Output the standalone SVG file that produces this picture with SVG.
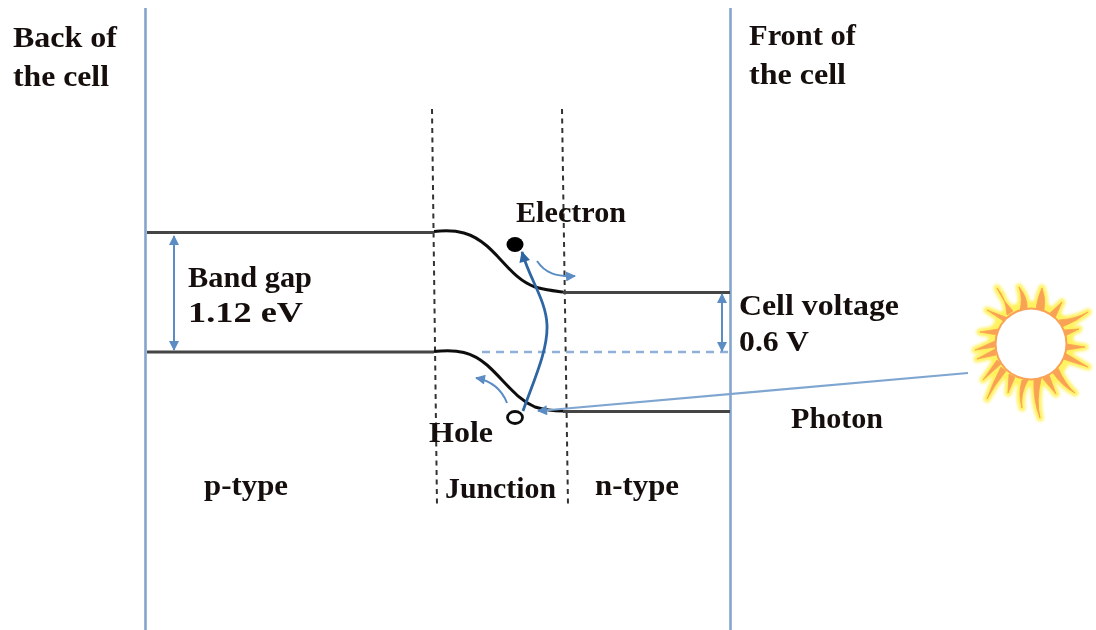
<svg xmlns="http://www.w3.org/2000/svg" width="1096" height="630" viewBox="0 0 1096 630">
<style>
text{font-family:"Liberation Serif","Times New Roman",serif;font-weight:bold;font-size:29px;fill:#14100c}
.wall{stroke:#86a5ce;stroke-width:2.6;fill:none}
.band{stroke:#444;stroke-width:2.8;fill:none}
.curve{stroke:#111;stroke-width:3;fill:none}
.dash{stroke:#333;stroke-width:2;stroke-dasharray:5 4.500;fill:none}
.blue{stroke:#2f66a3;stroke-width:2.8;fill:none}
.thin{stroke:#5b8cc4;stroke-width:2;fill:none}
</style>
<defs>
<marker id="a" viewBox="0 0 10 10" refX="9" refY="5" markerWidth="12" markerHeight="10" markerUnits="userSpaceOnUse" orient="auto-start-reverse"><path d="M0 0L10 5L0 10Z" fill="#5b8cc4"/></marker>
<marker id="b" viewBox="0 0 10 10" refX="9" refY="5" markerWidth="13" markerHeight="11" markerUnits="userSpaceOnUse" orient="auto"><path d="M0 0L10 5L0 10Z" fill="#2f66a3"/></marker>
<filter id="soft0" x="-5%" y="-5%" width="110%" height="110%"><feGaussianBlur stdDeviation="0.45"/></filter>
<filter id="blur" x="-20%" y="-20%" width="140%" height="140%"><feGaussianBlur stdDeviation="1.5"/></filter>
<filter id="soft" x="-20%" y="-20%" width="140%" height="140%"><feGaussianBlur stdDeviation="0.7"/></filter>
<path id="rays" d="M1007 315Q1006 298 997 288Q1002 300 1013 311ZM1020 310Q1023 298 1019 287Q1028 298 1027 309ZM1036 309Q1038 296 1042 288Q1046 298 1044 310ZM1049 314L1062 302L1055 318ZM1059 320Q1076 319 1088 312Q1077 321 1062 327ZM1064 330L1079 329L1065 336ZM1067 344L1085 347L1067 350ZM1065 353L1088 367L1063 359ZM1058 368Q1065 384 1075 393Q1062 386 1053 373ZM1049 375L1056 394L1043 379ZM1041 379Q1036 400 1040 418Q1033 400 1034 380ZM1028 380Q1020 394 1022 408Q1018 394 1022 380ZM1015 377L1008 393L1009 374ZM1006 371Q994 386 987 399Q993 382 1001 367ZM1001 364L983 380L997 360ZM996 355L977 359L995 349ZM995 347L975 350L995 341ZM997 335L980 332L998 329ZM1005 322L987 310L1008 318Z"/>
</defs>
<g id="connectors" filter="url(#soft0)">
<path class="wall" d="M145.500 8V630M730.500 8V630"/>
<path class="dash" d="M432 109L437 505"/>
<path class="dash" d="M562 109L568 505"/>
<path class="band" d="M147 232.500H434M147 352H434M563 292.500H730M563 411.500H730"/>
<path class="curve" d="M434 231.500C458 229 472 233 487 246C505 262 515 280 535 287C545 290 555 291 563 292"/>
<path class="curve" d="M434 351.500C458 349 472 352 487 365C505 381 515 398 535 407C545 410 555 411 563 411"/>
<path d="M482 352H728" stroke="#8fb0d8" stroke-width="2.400" stroke-dasharray="8 6" fill="none"/>
<path class="thin" d="M174 236V350" marker-start="url(#a)" marker-end="url(#a)"/>
<path class="thin" d="M722 294V351" marker-start="url(#a)" marker-end="url(#a)"/>
<path class="blue" d="M523 411C534 380 548 350 547 325C546 300 530 280 522 252" marker-end="url(#b)"/>
<path class="thin" d="M537 261C545 273 556 277 575 276" marker-end="url(#a)"/>
<path class="thin" d="M507 403C502 390 492 381 476 378" marker-end="url(#a)"/>
<path d="M968 373L538 411" stroke="#7fa6d0" stroke-width="2.200" fill="none" marker-end="url(#a)"/>
</g>
<g id="electron" filter="url(#soft0)"><ellipse cx="515" cy="244.500" rx="8.500" ry="7.500" fill="#000"/></g>
<g id="hole" filter="url(#soft0)"><ellipse cx="515" cy="417.500" rx="7.500" ry="6" fill="#fff" stroke="#111" stroke-width="2.800"/></g>
<g id="sun">
<circle cx="1031" cy="344" r="43" fill="#fff25e" filter="url(#blur)"/>
<use href="#rays" fill="#fff25e" stroke="#fff25e" stroke-width="7" stroke-linejoin="round" filter="url(#blur)"/>
<use href="#rays" fill="#f9a256" stroke="#f9a256" stroke-width="0.8" stroke-linejoin="round" filter="url(#soft)"/>
<circle cx="1031" cy="344" r="36.500" fill="#f9a256" filter="url(#soft)"/>
<circle cx="1031" cy="344" r="34.500" fill="#fff" filter="url(#soft)"/>
</g>
<g id="labels" filter="url(#soft0)">
<text x="13" y="47" textLength="104" lengthAdjust="spacingAndGlyphs">Back of</text>
<text x="13" y="86" textLength="96" lengthAdjust="spacingAndGlyphs">the cell</text>
<text x="749" y="45" textLength="107" lengthAdjust="spacingAndGlyphs">Front of</text>
<text x="749" y="84" textLength="97" lengthAdjust="spacingAndGlyphs">the cell</text>
<text x="516" y="222" textLength="110" lengthAdjust="spacingAndGlyphs">Electron</text>
<text x="188" y="287" textLength="124" lengthAdjust="spacingAndGlyphs">Band gap</text>
<text x="188" y="322" textLength="115" lengthAdjust="spacingAndGlyphs">1.12 eV</text>
<text x="739" y="315" textLength="160" lengthAdjust="spacingAndGlyphs">Cell voltage</text>
<text x="739" y="351" textLength="70" lengthAdjust="spacingAndGlyphs">0.6 V</text>
<text x="791" y="428" textLength="92" lengthAdjust="spacingAndGlyphs">Photon</text>
<text x="429" y="442" textLength="64" lengthAdjust="spacingAndGlyphs">Hole</text>
<text x="204" y="495" textLength="84" lengthAdjust="spacingAndGlyphs">p-type</text>
<text x="445" y="498" textLength="111" lengthAdjust="spacingAndGlyphs">Junction</text>
<text x="595" y="495" textLength="84" lengthAdjust="spacingAndGlyphs">n-type</text>
</g>
</svg>
